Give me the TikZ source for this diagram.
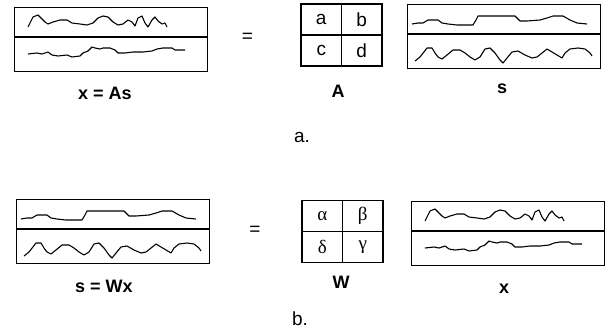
\documentclass[tikz,border=0pt]{standalone}
\usepackage{fontspec}
\setmainfont{Liberation Sans}
\newfontfamily\greekfont{Liberation Serif}
\usetikzlibrary{matrix,positioning}

% mixtures (drawn in box coordinates, y downwards)
\newcommand\wavemixa{(14,20) -- (19,10) -- (24,8) -- (31,15) -- (34,17) -- (39,15) -- (46,13) -- (53,13) -- (58,16) -- (66,17) -- (73,18) -- (79,16) -- (84,11) -- (89,9) -- (94,10) -- (99,15) -- (104,18) -- (109,17) -- (114,13) -- (118,15) -- (121,19) -- (124,11) -- (128,9) -- (131,16) -- (134,20) -- (138,13) -- (141,10) -- (144,14) -- (148,17) -- (151,16) -- (153,20)}
\newcommand\wavemixb{(14,47) -- (23,46) -- (28,47) -- (34,45) -- (38,48) -- (44,49) -- (53,48) -- (58,50) -- (66,49) -- (69,46) -- (74,44) -- (78,40) -- (81,41) -- (86,42) -- (89,41) -- (96,41) -- (101,43) -- (104,46) -- (111,46) -- (119,45) -- (129,45) -- (138,44) -- (143,42) -- (149,41) -- (158,41) -- (161,43) -- (171,43)}
% sources
\newcommand\wavesrca{(5,20) -- (11,19) -- (16,19) -- (21,16) -- (31,16) -- (35,19) -- (41,20) -- (50,21) -- (60,21) -- (66,21) -- (69,16) -- (71,12) -- (78,12) -- (90,12) -- (108,12) -- (113,17) -- (120,17) -- (133,16) -- (140,14) -- (146,12) -- (156,12) -- (163,16) -- (170,19) -- (180,20)}
\newcommand\wavesrcb{(8,57) -- (13,53) -- (20,44) -- (25,44) -- (28,49) -- (31,53) -- (35,55) -- (40,51) -- (46,46) -- (53,46) -- (58,49) -- (63,53) -- (68,56) -- (73,53) -- (78,45) -- (83,44) -- (88,49) -- (93,56) -- (96,59) -- (100,54) -- (105,48) -- (111,47) -- (118,51) -- (125,54) -- (130,53) -- (135,49) -- (140,45) -- (145,48) -- (150,51) -- (155,54) -- (158,49) -- (163,45) -- (171,44) -- (178,45) -- (183,49) -- (185,52)}

\begin{document}
\begin{tikzpicture}[
    x = 1pt,
    y = -1pt,
    sigbox/.style={
        draw,
        rectangle,
        line width = 1.2pt,
        minimum width = 193pt,
        minimum height = 64pt,
        inner sep = 0pt,
        anchor = north west,
        },
    divider/.style={
        line width = 1.2pt,
        },
    wave/.style={
        line width = 1.1pt,
        line join = round,
        },
    cellnode/.style={
        draw,
        rectangle,
        line width = 1.2pt,
        minimum width = 40.5pt,
        minimum height = 31pt,
        anchor = center,
        font = \fontsize{19}{22}\selectfont,
        },
    coeffs/.style={
        matrix of nodes,
        nodes = cellnode,
        row sep = -1.2pt,
        column sep = -1.2pt,
        inner sep = 0pt,
        },
    eqlabel/.style={
        font = \fontsize{18}{21}\selectfont\bfseries,
        anchor = base,
        },
    caption/.style={
        font = \fontsize{19}{22}\selectfont,
        anchor = base,
        },
    eqsign/.style={
        font = \fontsize{19}{22}\selectfont,
        },
]

\useasboundingbox (0,0) rectangle (607,332);

% a. x = As
\node[sigbox] (xtop) at (14,7) {};
\node[eqsign] (eqa) at (247.5,38) {=};
\matrix [coeffs] (amat) at (341.5,35) {
    a & b \\
    c & d \\
};
\node[sigbox] (stop) at (407,4) {};

\node[eqlabel] (xtoplab) at (105,99) {x = As};
\node[eqlabel] (amatlab) at (338,97) {A};
\node[eqlabel] (stoplab) at (502,93) {s};
\node[caption] (capa) at (302,142) {a.};

% b. s = Wx
\node[sigbox] (sbot) at (16,199) {};
\node[eqsign] (eqb) at (255,231) {=};
\matrix [coeffs] (wmat) at (342.5,231.5) {
    {\greekfont α} & {\greekfont β} \\
    {\greekfont δ} & {\greekfont γ} \\
};
\node[sigbox] (xbot) at (411,201) {};

\node[eqlabel] (sbotlab) at (104,292) {s = Wx};
\node[eqlabel] (wmatlab) at (341,288) {W};
\node[eqlabel] (xbotlab) at (504,293) {x};
\node[caption] (capb) at (300,325) {b.};

\foreach \b in {xtop,stop,sbot,xbot}
    \draw[divider] ([yshift=-30pt]\b.north west) -- ([yshift=-30pt]\b.north east);

\draw[wave, shift={(xtop.north west)}] \wavemixa;
\draw[wave, shift={(xtop.north west)}] \wavemixb;
\draw[wave, shift={(stop.north west)}] \wavesrca;
\draw[wave, shift={(stop.north west)}] \wavesrcb;

\draw[wave, shift={(sbot.north west)}] \wavesrca;
\draw[wave, shift={(sbot.north west)}] \wavesrcb;
\draw[wave, shift={(xbot.north west)}] \wavemixa;
\draw[wave, shift={(xbot.north west)}] \wavemixb;

\end{tikzpicture}
\end{document}
